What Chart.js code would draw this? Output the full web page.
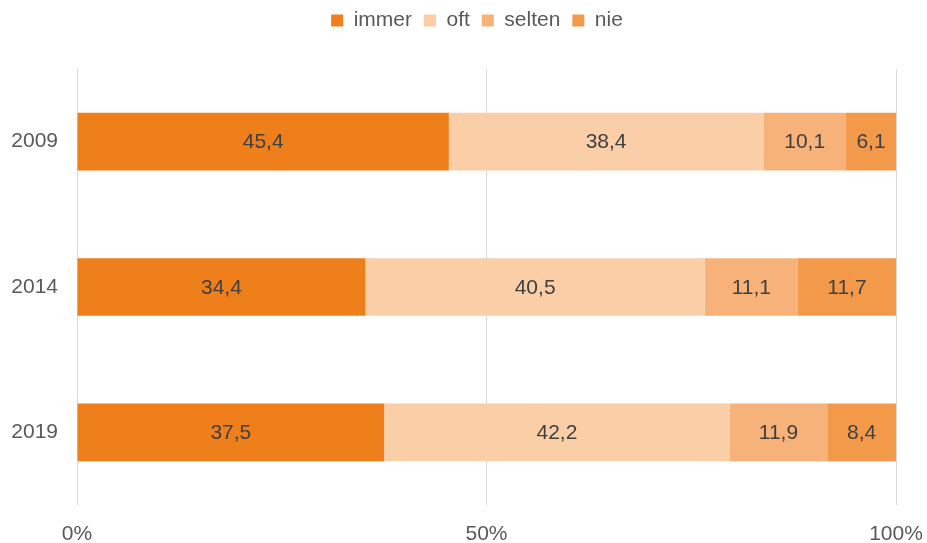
<!DOCTYPE html>
<html>
<head>
<meta charset="utf-8">
<script src="https://cdn.jsdelivr.net/npm/chart.js@4"></script>
<style>
  html, body { margin: 0; padding: 0; background: #fff; }
  #wrap { width: 927px; height: 543px; }
</style>
</head>
<body>
<div id="wrap"><canvas id="chart"></canvas></div>
<script>
const years = ['2009', '2014', '2019']
const immer = [45.4, 34.4, 37.5]
const oft = [38.4, 40.5, 42.2]
const selten = [10.1, 11.1, 11.9]
const nie = [6.1, 11.7, 8.4]
const xTicks = ['0%', '50%', '100%']

const series = [
  { label: 'immer', raw: immer, color: '#EE7F1A' },
  { label: 'oft', raw: oft, color: '#FACFA7' },
  { label: 'selten', raw: selten, color: '#F7B27A' },
  { label: 'nie', raw: nie, color: '#F39A4A' },
]

// 100% stacked: share of each row total
const totals = years.map((_, i) => series.reduce((s, d) => s + d.raw[i], 0))

const font = { family: "'Liberation Sans', Arial, sans-serif", size: 21, lineHeight: 1 }

const barLabels = {
  id: 'barLabels',
  afterDatasetsDraw(chart) {
    const ctx = chart.ctx
    ctx.save()
    ctx.font = `${font.size}px ${font.family}`
    ctx.fillStyle = '#404040'
    ctx.textAlign = 'center'
    ctx.textBaseline = 'middle'
    chart.data.datasets.forEach((ds, di) => {
      chart.getDatasetMeta(di).data.forEach((bar, i) => {
        const x = (bar.x + bar.base) / 2
        ctx.fillText(ds.raw[i].toFixed(1).replace('.', ','), x, bar.y + 1)
      })
    })
    ctx.restore()
  },
}

// extra room under the legend, and nudge it right like the original
const legendGap = {
  id: 'legendGap',
  beforeInit(chart) {
    const legend = chart.legend
    const fit = legend.fit
    legend.fit = function () {
      fit.call(this)
      this.height += 29
    }
    const draw = legend.draw
    legend.draw = function () {
      const ctx = this.ctx
      ctx.save()
      ctx.translate(29, 1)
      draw.call(this)
      ctx.restore()
    }
  },
}

new Chart(document.getElementById('chart'), {
  type: 'bar',
  data: {
    labels: years,
    datasets: series.map((s) => ({
      label: s.label,
      raw: s.raw,
      data: s.raw.map((v, i) => (v / totals[i]) * 100),
      backgroundColor: s.color,
      borderWidth: 0,
      categoryPercentage: 1,
      barPercentage: 0.397,
    })),
  },
  options: {
    indexAxis: 'y',
    responsive: true,
    maintainAspectRatio: false,
    animation: false,
    layout: { padding: { top: -3, right: 31, bottom: 0, left: 0 } },
    scales: {
      x: {
        stacked: true,
        min: 0,
        max: 100,
        grid: { color: '#D9D9D9', lineWidth: 1, drawTicks: false },
        border: { display: false },
        afterFit: (scale) => {
          scale.height = 38
          scale.paddingLeft = 0
          scale.paddingRight = 0
        },
        afterBuildTicks: (scale) => {
          scale.ticks = [{ value: 0 }, { value: 50 }, { value: 100 }]
        },
        ticks: {
          padding: 19,
          color: '#595959',
          font,
          maxRotation: 0,
          callback: (v, i) => xTicks[i],
        },
      },
      y: {
        stacked: true,
        grid: { display: false, drawTicks: false },
        border: { display: false },
        afterFit: (scale) => { scale.width = 77 },
        ticks: { padding: 19, color: '#595959', font },
      },
    },
    plugins: {
      legend: {
        position: 'top',
        labels: {
          boxWidth: 12,
          boxHeight: 12,
          padding: 12,
          color: '#595959',
          font,
        },
      },
      tooltip: { enabled: false },
    },
  },
  plugins: [barLabels, legendGap],
})
</script>
</body>
</html>
